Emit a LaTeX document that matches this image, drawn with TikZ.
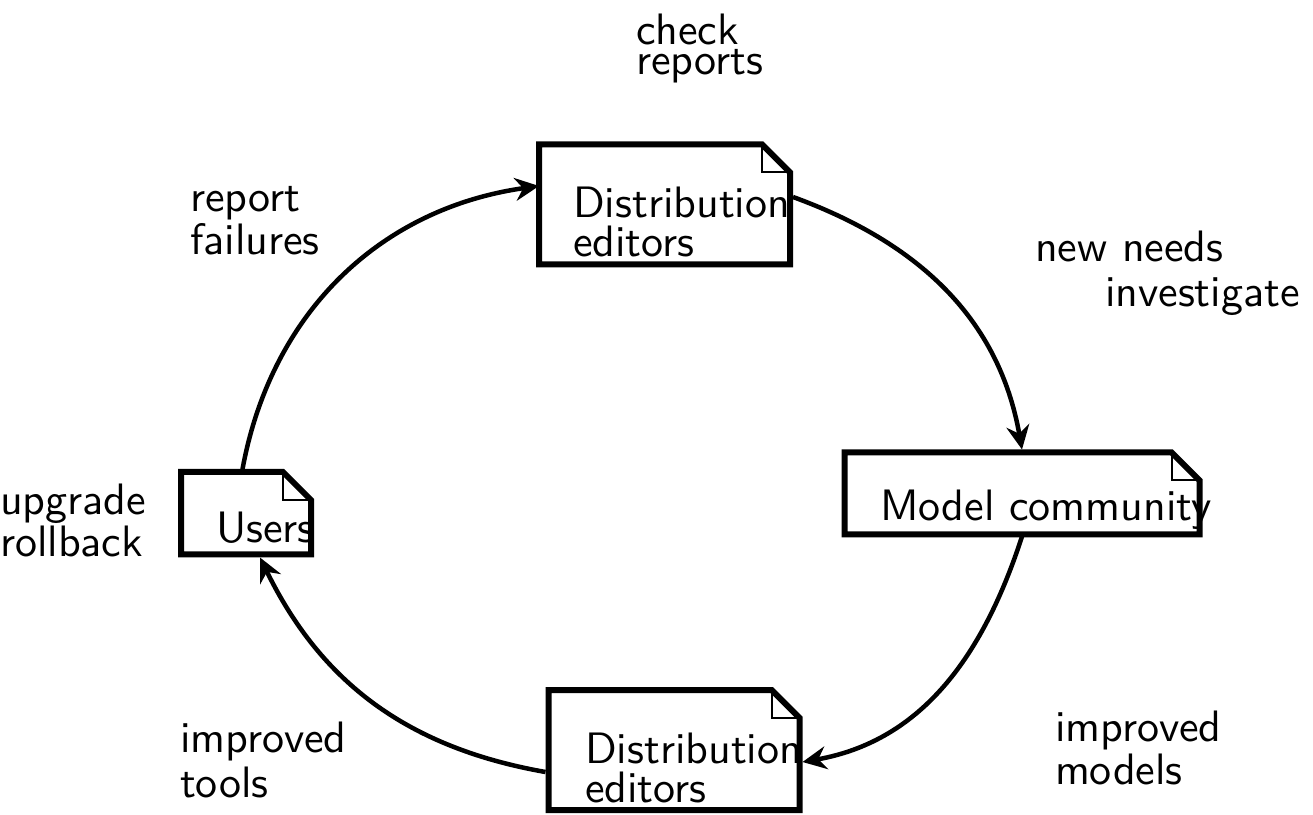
\documentclass[tikz,border=0pt]{standalone}
\usepackage{fontspec}
\setsansfont{lmsans10-regular.otf}
\usetikzlibrary{arrows.meta,calc}

\newcommand\fold{28pt}

% invisible frame that carries the anchors of a document shape
\newcommand\docframe[4]{%
  \node[shape=rectangle, inner sep=0pt, outer sep=0pt,
        minimum width=#3, minimum height=#4] (#1) at (#2) {};}

% outline with the folded top-right corner
\newcommand\docoutline[1]{%
  \draw[docline] (#1.north west) -- ([xshift=-\fold]#1.north east)
    -- ([yshift=-\fold]#1.north east) -- (#1.south east)
    -- (#1.south west) -- cycle;
  \draw[foldline] ([xshift=-\fold]#1.north east) |- ([yshift=-\fold]#1.north east);}

% text is placed by the baseline of its last line
\tikzset{
  docline/.style={line width=6pt, line join=miter},
  foldline/.style={line width=2pt},
  txt/.style={anchor=base west, inner sep=0pt, outer sep=0pt, align=left,
    font=\sffamily\fontsize{44pt}{#1}\selectfont},
  txt/.default=40pt,
  flow/.style={line width=4.5pt, -{Stealth[length=24pt,width=23pt,inset=8pt]}},
}

\begin{document}
\begin{tikzpicture}[x=1pt,y=1pt]
  \useasboundingbox (0,0) rectangle (1313,814);

  % document shapes
  \docframe{distA}{664.5,609.5}{251}{120}
  \docframe{model}{1022,320.5}{355}{82}
  \docframe{users}{246,300.75}{130}{82.5}
  \docframe{distB}{674,64}{251}{120}

  % texts inside the shapes
  \node[txt=39pt] (distAtxt) at (573,557) {Distribution\\editors};
  \node[txt] (modeltxt) at (880,293) {Model community};
  \node[txt] (userstxt) at (216,271) {Users};
  \node[txt=39pt] (distBtxt) at (585,12) {Distribution\\editors};

  \docoutline{distA}
  \docoutline{model}
  \docoutline{users}
  \docoutline{distB}

  % activity labels
  \node[txt=30pt] (lcheck)   at (636,739)  {check\\reports};
  \node[txt=43pt] (lreport)  at (190,559)  {report\\failures};
  \node[txt] (lneeds)   at (1035,552) {new needs};
  \node[txt] (linvest)  at (1105,507) {investigate};
  \node[txt=41pt] (lupgrade) at (0,258)    {upgrade\\rollback};
  \node[txt=43pt] (lmodels)  at (1055,30)  {improved\\models};
  \node[txt=45pt] (ltools)   at (180,17)   {improved\\tools};

  % cycle of connectors
  \draw[flow] ([xshift=-4pt]users.north) to[out=80,in=188] ([yshift=18.5pt]distA.west);
  \draw[flow] ([yshift=7.5pt,xshift=3pt]distA.east) to[out=-20,in=100] ([yshift=3pt]model.north);
  \draw[flow] ([yshift=-2pt]model.south) to[out=-108,in=10] ([yshift=-12pt,xshift=3pt]distB.east);
  \draw[flow] ([yshift=-22pt,xshift=-3pt]distB.west) to[out=170,in=-64] ([xshift=14pt,yshift=-3pt]users.south);
\end{tikzpicture}
\end{document}
